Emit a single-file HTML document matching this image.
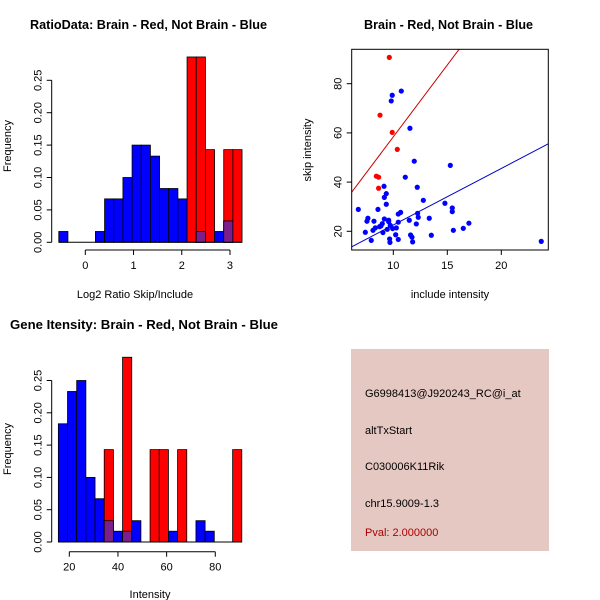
<!DOCTYPE html>
<html><head><meta charset="utf-8"><style>
body{margin:0;background:#fff}
svg{display:block;font-family:"Liberation Sans",sans-serif}
</style></head><body>
<svg id="c" width="600" height="600" viewBox="0 0 600 600"></svg>
<script>
// ---- Data: ratio histogram ----
const ratioBinStart = -0.55, ratioBinWidth = 0.19;
const ratioBlue = [0.0167,0,0,0,0.0167,0.067,0.067,0.10,0.15,0.15,0.133,0.083,0.083,0.067,0,0.0167,0,0.0167,0.033,0];
const ratioRed  = [0,0,0,0,0,0,0,0,0,0,0,0,0,0,0.286,0.286,0.143,0,0.143,0.143];
const ratioYTicks = [0,0.05,0.10,0.15,0.20,0.25];
const ratioYLabels = ["0.00","0.05","0.10","0.15","0.20","0.25"];
const ratioXTicks = [0,1,2,3];
// ---- Data: scatter ----
const redX = [9.63,8.77,9.9,10.37,8.43,8.64,8.64];
const redY = [90.7,67.2,60.2,53.3,42.4,42.0,37.5];
const blueX = [10.74,9.9,9.81,11.54,11.94,15.28,11.11,9.14,12.22,9.35,9.17,9.35,12.78,14.78,6.76,8.58,15.46,15.46,10.46,10.68,12.25,12.31,7.65,7.56,8.21,9.17,9.57,11.48,13.33,10.46,12.13,17.0,7.41,8.12,8.33,8.73,8.98,9.04,9.44,9.72,9.94,10.28,9.57,8.86,7.96,9.66,9.69,10.46,10.22,11.6,11.73,11.79,13.52,15.56,16.48,23.7];
const blueY = [77.0,75.3,73.0,61.9,48.5,46.8,42.0,38.3,37.9,35.3,33.8,31.0,32.6,31.4,28.9,28.9,29.5,28.0,27.0,27.7,27.3,25.7,25.3,24.1,24.1,25.0,24.5,24.5,25.3,23.7,23.0,23.3,19.6,20.4,21.4,21.9,23.1,19.5,20.8,22.4,21.1,21.4,23.9,22.2,16.3,16.9,15.5,16.7,18.6,18.5,17.6,15.7,18.4,20.4,21.2,15.9];
const redSlope = 5.84, redIntercept = 0.0;
const blueSlope = 2.3, blueIntercept = -0.44;
const scXTicks = [10,15,20];
const scYTicks = [20,40,60,80];
// ---- Data: intensity histogram ----
const intBinStart = 15.5, intBinWidth = 3.77;
const intBlue = [0.183,0.233,0.25,0.10,0.067,0.033,0.0167,0.0167,0.033,0,0,0,0.0167,0,0,0.033,0.0167,0,0,0];
const intRed  = [0,0,0,0,0,0.143,0,0.286,0,0,0.143,0.143,0,0.143,0,0,0,0,0,0.143];
const intXTicks = [20,40,60,80];

const NS="http://www.w3.org/2000/svg", svg=document.getElementById('c');
function el(tag,attrs,parent){const e=document.createElementNS(NS,tag);for(const k in attrs)e.setAttribute(k,attrs[k]);(parent||svg).appendChild(e);return e;}
function txt(s,attrs){const e=el('text',attrs);e.textContent=s;return e;}

function hist(o){
  const xs=v=>o.x0+(v-o.xv0)*o.kx, ys=v=>o.y0-v*o.ky;
  const g=el('g',{});
  
  
  const n=o.blue.length;
  for(let i=0;i<n;i++){
    const a=o.start+i*o.width,b=a+o.width;
    if(o.blue[i]>0){const r=el('rect',{x:xs(a),y:ys(o.blue[i]),width:xs(b)-xs(a),height:o.blue[i]*o.ky,fill:'#0000ff',stroke:'#000','stroke-width':0.8},g);
      
      }
    if(o.red[i]>0){const r=el('rect',{x:xs(a),y:ys(o.red[i]),width:xs(b)-xs(a),height:o.red[i]*o.ky,fill:'#ff0000',stroke:'#000','stroke-width':0.8},g);
      
      }
    const m=Math.min(o.blue[i],o.red[i]);
    if(m>0){const r=el('rect',{x:xs(a),y:ys(m),width:xs(b)-xs(a),height:m*o.ky,fill:'#7a1f8c',stroke:'#000','stroke-width':0.8},g);
      
      }
  }
  el('line',{x1:xs(o.start),x2:xs(o.start+n*o.width),y1:o.y0,y2:o.y0,stroke:'#000'},g);
  const yl=o.yLeft;
  el('line',{x1:yl,x2:yl,y1:ys(0),y2:ys(0.25),stroke:'#000'},g);
  ratioYTicks.forEach((t,i)=>{
    el('line',{x1:yl-5,x2:yl,y1:ys(t),y2:ys(t),stroke:'#000'},g);
    const tt=txt(ratioYLabels[i],{x:yl-10,y:ys(t),'font-size':11,'text-anchor':'middle',transform:`rotate(-90 ${yl-10} ${ys(t)})`});
    
    
  });
  const xa=o.xAxisY;
  el('line',{x1:xs(o.xticks[0]),x2:xs(o.xticks[o.xticks.length-1]),y1:xa,y2:xa,stroke:'#000'},g);
  o.xticks.forEach(t=>{
    el('line',{x1:xs(t),x2:xs(t),y1:xa,y2:xa+5,stroke:'#000'},g);
    const tt=txt(String(t),{x:xs(t),y:xa+19,'font-size':11,'text-anchor':'middle'});
    
    
  });
}

hist({name:'ratio-histogram',blue:ratioBlue,red:ratioRed,start:ratioBinStart,width:ratioBinWidth,
  x0:85.3,xv0:0,kx:48.23,y0:242.3,ky:648,yLeft:51.7,xAxisY:250,xticks:ratioXTicks});
hist({name:'intensity-histogram',blue:intBlue,red:intRed,start:intBinStart,width:intBinWidth,
  x0:69.3,xv0:20,kx:2.433,y0:542,ky:646,yLeft:51.7,xAxisY:551.7,xticks:intXTicks});

(function(){
  const L=351.7,R=548.3,T=49.3,B=250;
  const xs=v=>393.3+(v-10)*10.8, ys=v=>231.3-(v-20)*2.46;
  const xinv=p=>10+(p-393.3)/10.8;
  const g=el('g',{});
  
  
  const defs=el('defs',{},g);const cp=el('clipPath',{id:'clipS'},defs);el('rect',{x:L,y:T,width:R-L,height:B-T},cp);
  const xl=xinv(L),xr=xinv(R);
  const rl=el('line',{x1:L,x2:R,y1:ys(redIntercept+redSlope*xl),y2:ys(redIntercept+redSlope*xr),stroke:'#cc0000','clip-path':'url(#clipS)'},g);
  
  
  const bl=el('line',{x1:L,x2:R,y1:ys(blueIntercept+blueSlope*xl),y2:ys(blueIntercept+blueSlope*xr),stroke:'#0000cc','clip-path':'url(#clipS)'},g);
  
  
  blueX.forEach((x,i)=>{const c=el('circle',{cx:xs(x),cy:ys(blueY[i]),r:2.6,fill:'#0000ff'},g);
    
    });
  redX.forEach((x,i)=>{const c=el('circle',{cx:xs(x),cy:ys(redY[i]),r:2.6,fill:'#ff0000'},g);
    
    });
  el('rect',{x:L,y:T,width:R-L,height:B-T,fill:'none',stroke:'#000'},g);
  scXTicks.forEach(t=>{el('line',{x1:xs(t),x2:xs(t),y1:B,y2:B+5,stroke:'#000'},g);
    const tt=txt(String(t),{x:xs(t),y:B+19,'font-size':11,'text-anchor':'middle'});
    
    });
  scYTicks.forEach(t=>{el('line',{x1:L-5,x2:L,y1:ys(t),y2:ys(t),stroke:'#000'},g);
    const tt=txt(String(t),{x:L-10,y:ys(t),'font-size':11,'text-anchor':'middle',transform:`rotate(-90 ${L-10} ${ys(t)})`});
    
    });
})();

function label(s,name,a){const t=txt(s,a);}
label('RatioData: Brain - Red, Not Brain - Blue','ratio-title',{x:148.5,y:29,'font-size':12.5,'font-weight':'bold','text-anchor':'middle',textLength:237,lengthAdjust:'spacingAndGlyphs'});
label('Brain - Red, Not Brain - Blue','scatter-title',{x:448.5,y:29,'font-size':12.5,'font-weight':'bold','text-anchor':'middle',textLength:169,lengthAdjust:'spacingAndGlyphs'});
label('Gene Itensity: Brain - Red, Not Brain - Blue','intensity-title',{x:144,y:329,'font-size':12.5,'font-weight':'bold','text-anchor':'middle',textLength:268,lengthAdjust:'spacingAndGlyphs'});
label('Log2 Ratio Skip/Include','ratio-x-title',{x:135,y:298,'font-size':11,'text-anchor':'middle'});
label('include intensity','scatter-x-title',{x:450,y:298,'font-size':11,'text-anchor':'middle'});
label('Intensity','intensity-x-title',{x:150,y:598,'font-size':11,'text-anchor':'middle'});
label('Frequency','ratio-y-title',{x:11,y:146,'font-size':11,'text-anchor':'middle',transform:'rotate(-90 11 146)'});
label('Frequency','intensity-y-title',{x:11,y:449,'font-size':11,'text-anchor':'middle',transform:'rotate(-90 11 449)'});
label('skip intensity','scatter-y-title',{x:311,y:150,'font-size':11,'text-anchor':'middle',transform:'rotate(-90 311 150)'});

const p=el('rect',{x:351,y:349,width:198,height:202,fill:'#e6c8c2'});


label('G6998413@J920243_RC@i_at','probe-id',{x:365,y:397,'font-size':11});
label('altTxStart','event-type',{x:365,y:434,'font-size':11});
label('C030006K11Rik','gene-name',{x:365,y:470,'font-size':11});
label('chr15.9009-1.3','locus',{x:365,y:507,'font-size':11});
label('Pval: 2.000000','p-value',{x:365,y:536,'font-size':11,fill:'#aa0000'});
</script>
</body></html>
